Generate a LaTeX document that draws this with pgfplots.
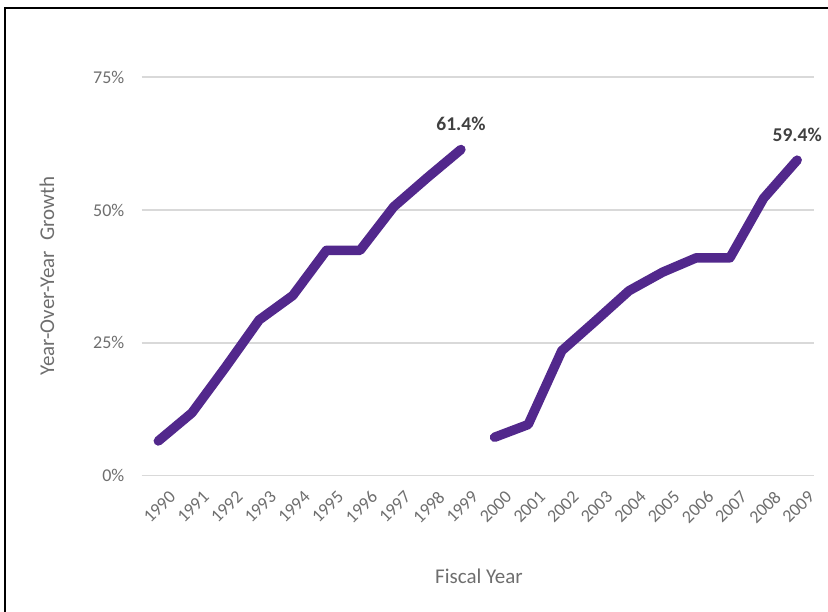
\documentclass[border=0pt]{standalone}
\usepackage{pgfplots}
\pgfplotsset{compat=1.18}
\usepackage{fontspec}
\setmainfont{Carlito}
\definecolor{linepurple}{RGB}{82,40,140}
\definecolor{gridgray}{RGB}{217,217,217}
\definecolor{ticktext}{RGB}{110,110,110}
\definecolor{labeltext}{RGB}{64,64,64}
\newcommand\tickfont{\fontsize{18}{20}\selectfont}
\begin{document}
\begin{tikzpicture}
\path[use as bounding box] (0pt,0pt) rectangle (828pt,612pt);
\draw[black, line width=2.2pt] (5pt,0pt) -- (5pt,604pt) -- (828pt,604pt);
\begin{axis}[
  at={(141.5pt,136.5pt)}, anchor=south west,
  scale only axis, width=672.5pt, height=398.2pt,
  xmin=1989.5, xmax=2009.5, ymin=0, ymax=75,
  axis line style={draw=none},
  tick style={draw=none},
  clip=false,
  xtick={1990,...,2009},
  ytick={0,25,50,75},
  ymajorgrids, grid style={gridgray, line width=1.6pt},
  major tick length=0pt,
  /pgf/number format/assume math mode=true,
  xticklabel={\tickfont\pgfmathprintnumber[1000 sep=]{\tick}},
  yticklabel={\tickfont\pgfmathprintnumber{\tick}\%},
  tick label style={text=ticktext},
  xticklabel style={rotate=45, anchor=north east, inner sep=0pt, yshift=-17pt, xshift=-3pt},
  yticklabel style={anchor=east, inner sep=0pt, xshift=-17pt},
]
\addplot[linepurple, line width=9.5pt, line cap=round, line join=round] coordinates {
(1990,6.5) (1991,11.8) (1992,20.4) (1993,29.3) (1994,33.9) (1995,42.4) (1996,42.4) (1997,50.6) (1998,56.1) (1999,61.4)
};
\addplot[linepurple, line width=9.5pt, line cap=round, line join=round] coordinates {
(2000,7.2) (2001,9.6) (2002,23.5) (2003,29.1) (2004,34.8) (2005,38.3) (2006,41.0) (2007,41.0) (2008,52.2) (2009,59.4)
};
\node[text=labeltext, font=\bfseries\fontsize{19.5}{20}\selectfont, yshift=26pt] at (axis cs:1999,61.4) {61.4\%};
\node[text=labeltext, font=\bfseries\fontsize{19.5}{20}\selectfont, yshift=25pt] at (axis cs:2009,59.4) {59.4\%};
\end{axis}
\node[text=ticktext, font=\fontsize{21}{22}\selectfont] at (479pt,36pt) {Fiscal Year};
\node[text=ticktext, font=\fontsize{21}{22}\selectfont, rotate=90] at (47pt,336pt) {Year-Over-Year\hspace{0.25em} Growth};
\end{tikzpicture}
\end{document}
